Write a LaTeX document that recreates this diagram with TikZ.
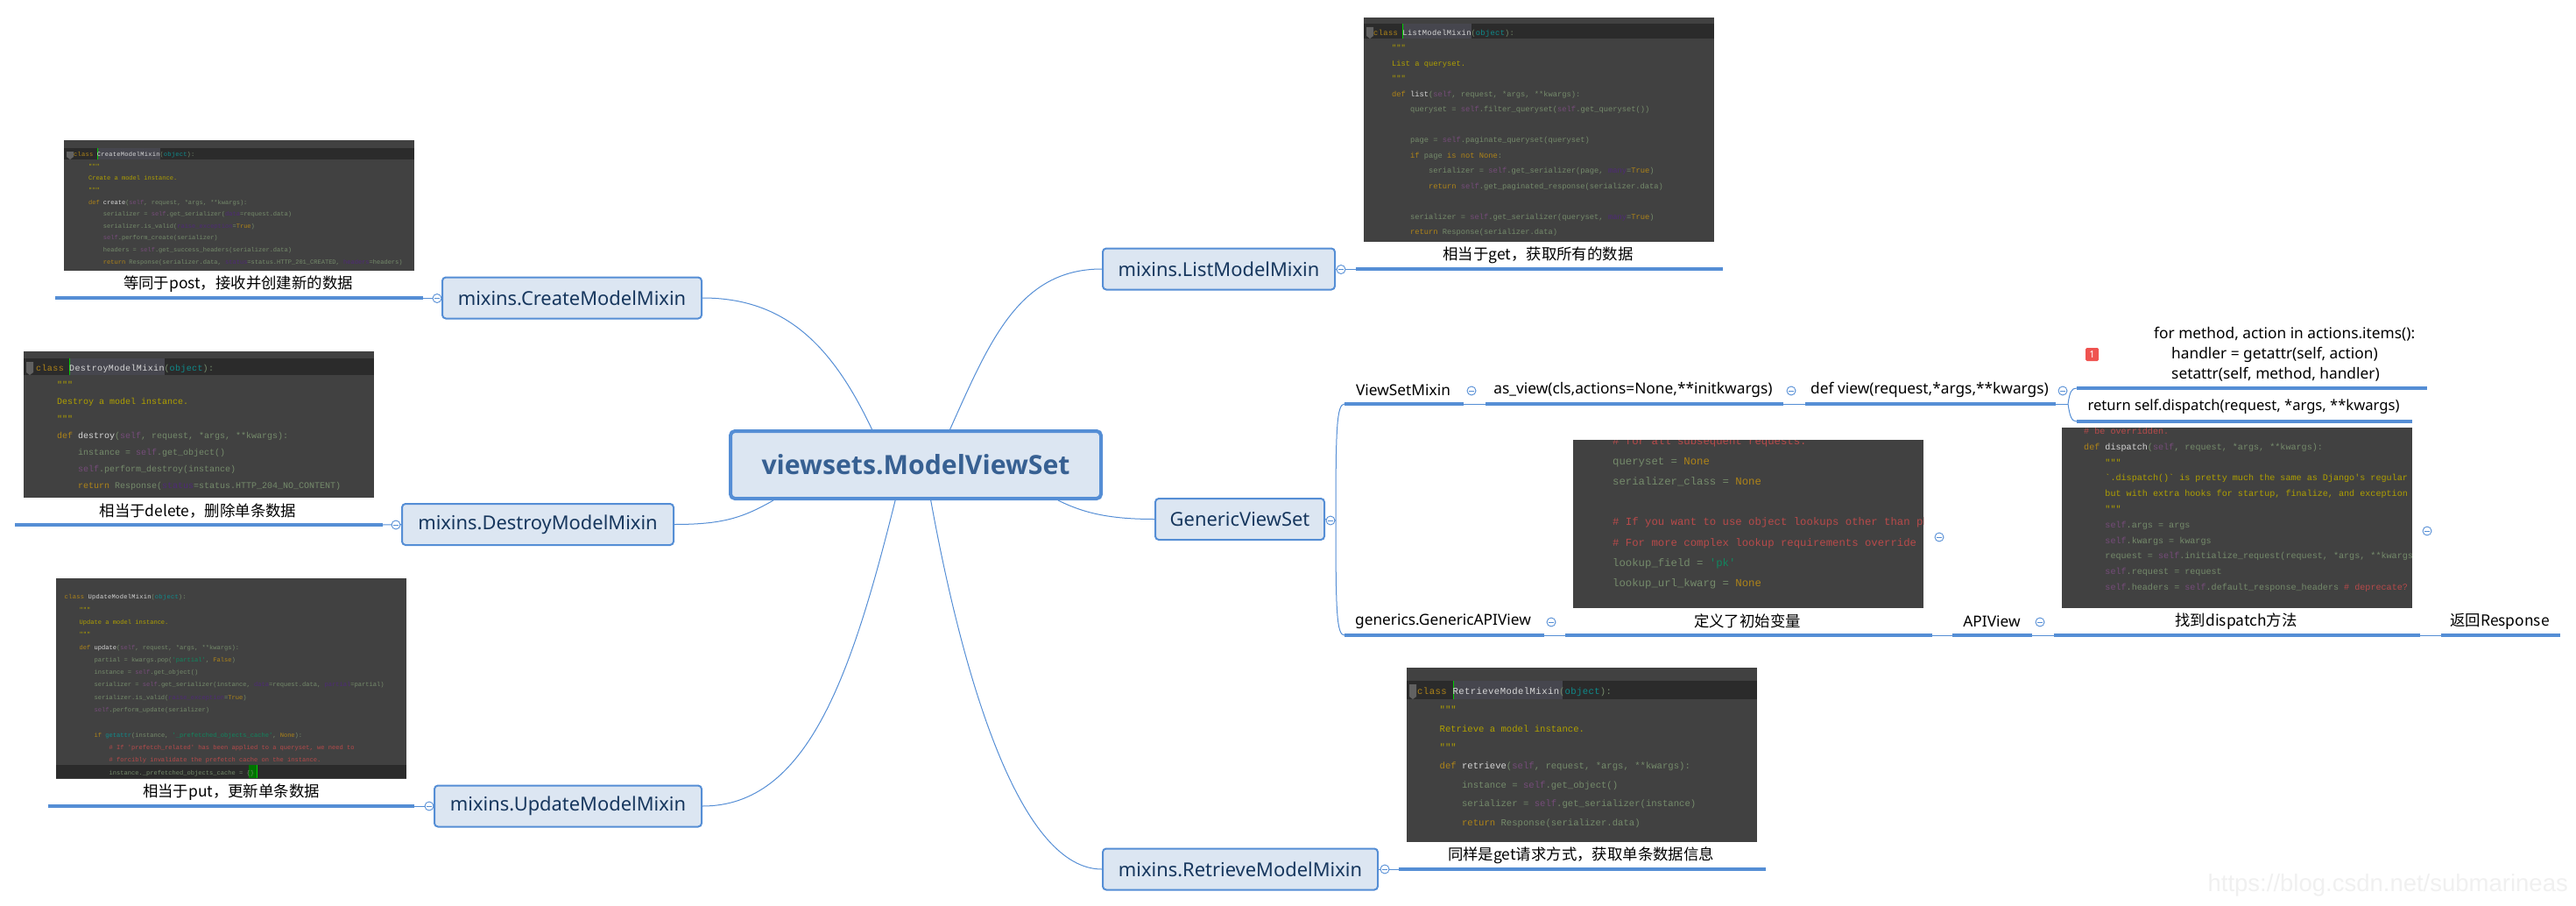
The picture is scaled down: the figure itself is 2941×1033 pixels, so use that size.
\documentclass[tikz,border=0pt]{standalone}
\usepackage{fontspec}
\setmainfont{Noto Sans}
\newfontfamily\cjk{Noto Sans CJK SC}
\newfontfamily\codefont{Liberation Mono}
\newfontfamily\rootfont{Open Sans}
\newfontfamily\markfont{Liberation Sans}
\usetikzlibrary{calc}
\definecolor{topicblue}{HTML}{558ED5}
\definecolor{topicfill}{HTML}{DCE6F2}
\definecolor{topicink}{HTML}{17375E}
\definecolor{rootink}{HTML}{376092}
\definecolor{shotbg}{HTML}{414141}
\definecolor{shotbar}{HTML}{2B2B2B}
\definecolor{shotsel}{HTML}{46464E}
\definecolor{codeplain}{HTML}{758B6B}
\definecolor{badgered}{HTML}{EF5350}
\newcommand{\ckw}[1]{\textcolor[HTML]{AF8418}{#1}}
\newcommand{\cdoc}[1]{\textcolor[HTML]{B0A000}{#1}}
\newcommand{\cself}[1]{\textcolor[HTML]{764C7A}{#1}}
\newcommand{\cparam}[1]{\textcolor[HTML]{4F2A78}{#1}}
\newcommand{\ccom}[1]{\textcolor[HTML]{B84A4A}{#1}}
\newcommand{\cstr}[1]{\textcolor[HTML]{10875F}{#1}}
\newcommand{\cbuilt}[1]{\textcolor[HTML]{0E8C8C}{#1}}
\newcommand{\cfn}[1]{\textcolor[HTML]{D8D8D8}{#1}}
\newcommand{\indA}{\hspace*{2.4em}}
\newcommand{\indB}{\hspace*{4.8em}}
\newcommand{\indC}{\hspace*{7.2em}}
\newcommand{\classline}[1]{{\addfontfeature{LetterSpace=4}\ckw{class} \cfn{#1}(\cbuilt{object}):}}
\def\codeshot(#1:#2)(#3:#4){\fill[shotbg] (#1,#2) rectangle (#3,#4);}
\def\shotbar(#1:#2)(#3:#4)(#5:#6){
	\fill[shotbar] (#1,#3) rectangle (#2,#4);
	\fill[shotsel] (#5,#3) rectangle (#6,#4);
	\fill[green!80!black] (#5,#3) rectangle ($(#5,#4)+(1.2,0)$);
	\fill[black!62] ($(#1,#3)+(3,4)$) -- ($(#1,#3)+(11,4)$) -- ($(#1,#4)+(11,-3)$) -- ($(#1,#4)+(7,0)$) -- ($(#1,#4)+(3,-3)$) -- cycle;
}
\tikzset{
	rootbox/.style={draw=topicblue, fill=topicfill, line width=4pt, rounded corners=5pt, text=rootink, font=\rootfont\bfseries\fontsize{30.2}{36}\selectfont, minimum width=423pt, minimum height=77pt, inner sep=0pt},
	topicbox/.style={draw=topicblue, fill=topicfill, line width=2pt, rounded corners=4pt, text=topicink, font=\fontsize{21.9}{26}\selectfont, minimum height=47pt, inner sep=0pt},
	plaintext/.style={font=\fontsize{17.3}{23}\selectfont, inner sep=0pt, align=center},
	captiontext/.style={font=\cjk\fontsize{17.4}{23}\selectfont, inner sep=0pt},
	codetext/.style={anchor=north west, inner sep=0pt, align=left, text=codeplain},
	rulelink/.style={draw=topicblue, line width=4pt},
	thinlink/.style={draw=topicblue, line width=1pt},
	collapser/.style={circle, draw=topicblue, fill=white, line width=0.9pt, minimum size=10pt, inner sep=0pt, path picture={\draw[topicblue, line width=0.9pt] ($(path picture bounding box.center)+(-3,0)$) -- ($(path picture bounding box.center)+(3,0)$);}}
}

\begin{document}
\begin{tikzpicture}[x=1pt, y=-1pt]
	%%%%% START %%%%%
	\useasboundingbox (0, 0) rectangle (2941, 1033);

	\node[rootbox] (root) at (1045.5, 530.5) {viewsets.ModelViewSet};

	\node[topicbox, minimum width=296pt] (create) at (653, 340) {mixins.CreateModelMixin};
	\node[topicbox, minimum width=310pt] (destroy) at (614, 598.5) {mixins.DestroyModelMixin};
	\node[topicbox, minimum width=305pt] (update) at (648.5, 920) {mixins.UpdateModelMixin};
	\node[topicbox, minimum width=265pt] (list) at (1391.5, 307) {mixins.ListModelMixin};
	\node[topicbox, minimum width=193pt] (generic) at (1415.5, 592.5) {GenericViewSet};
	\node[topicbox, minimum width=314pt] (retrieve) at (1416, 992) {mixins.RetrieveModelMixin};

	% links from the centre
	\draw[thinlink] (create.east) .. controls +(95, 0) and +(-45, -95) .. (root.141);
	\draw[thinlink] (list.west) .. controls +(-95, 0) and +(45, -100) .. (root.46.5);
	\draw[thinlink] (destroy.east) .. controls +(55, 0) and +(-35, 20) .. (root.194.7);
	\draw[thinlink] (update.east) .. controls +(120, 0) and +(-50, 200) .. (root.240.7);
	\draw[thinlink] (retrieve.west) .. controls +(-90, 0) and +(40, 220) .. (root.293.7);
	\draw[thinlink] (generic.west) .. controls +(-50, 0) and +(30, 15) .. (root.346.5);

	% create
	\codeshot(73:160)(473:309)
	\shotbar(73:473)(169:182)(111:183)
	\node[codetext, font=\codefont\fontsize{7.03}{13.6}\selectfont] (createcode) at (84, 173.5) {\classline{CreateModelMixin}\\
	\indA\cdoc{"""}\\
	\indA\cdoc{Create a model instance.}\\
	\indA\cdoc{"""}\\
	\indA\ckw{def} \cfn{create}(\cself{self}, request, *args, **kwargs):\\
	\indB serializer = \cself{self}.get\_serializer(\cparam{data}=request.data)\\
	\indB serializer.is\_valid(\cparam{raise\_exception}=\ckw{True})\\
	\indB\cself{self}.perform\_create(serializer)\\
	\indB headers = \cself{self}.get\_success\_headers(serializer.data)\\
	\indB\ckw{return} Response(serializer.data, \cparam{status}=status.HTTP\_201\_CREATED, \cparam{headers}=headers)};
	\node[captiontext] (createnote) at (272, 324) {等同于post，接收并创建新的数据};
	\coordinate (createL) at (63, 340);
	\coordinate (createR) at (483, 340);
	\draw[rulelink] (createL) -- (createR);
	\draw[thinlink] (createR) -- (create.west);
	\node[collapser] (createdot) at (499, 340.5) {};

	% destroy
	\codeshot(27:401)(427:568)
	\shotbar(27:427)(409:428)(79:188)
	\node[codetext, font=\codefont\fontsize{10}{19.2}\selectfont] (destroycode) at (41, 416) {\classline{DestroyModelMixin}\\
	\indA\cdoc{"""}\\
	\indA\cdoc{Destroy a model instance.}\\
	\indA\cdoc{"""}\\
	\indA\ckw{def} \cfn{destroy}(\cself{self}, request, *args, **kwargs):\\
	\indB instance = \cself{self}.get\_object()\\
	\indB\cself{self}.perform\_destroy(instance)\\
	\indB\ckw{return} Response(\cparam{status}=status.HTTP\_204\_NO\_CONTENT)};
	\node[captiontext] (destroynote) at (226, 583) {相当于delete，删除单条数据};
	\coordinate (destroyL) at (17, 599);
	\coordinate (destroyR) at (437, 599);
	\draw[rulelink] (destroyL) -- (destroyR);
	\draw[thinlink] (destroyR) -- (destroy.west);
	\node[collapser] (destroydot) at (452, 599) {};

	% update
	\codeshot(64:660)(464:889)
	\fill[shotbar] (64, 873) rectangle (464, 888);
	\fill[green!45!black] (284, 873) rectangle (293, 888);
	\fill[green!80!black] (293, 873) rectangle (294.2, 888);
	\node[codetext, font=\codefont\fontsize{7.07}{14.3}\selectfont] (updatecode) at (73.5, 678.5) {\classline{UpdateModelMixin}\\
	\indA\cdoc{"""}\\
	\indA\cdoc{Update a model instance.}\\
	\indA\cdoc{"""}\\
	\indA\ckw{def} \cfn{update}(\cself{self}, request, *args, **kwargs):\\
	\indB partial = kwargs.pop(\cstr{'partial'}, \ckw{False})\\
	\indB instance = \cself{self}.get\_object()\\
	\indB serializer = \cself{self}.get\_serializer(instance, \cparam{data}=request.data, \cparam{partial}=partial)\\
	\indB serializer.is\_valid(\cparam{raise\_exception}=\ckw{True})\\
	\indB\cself{self}.perform\_update(serializer)\\
	\mbox{}\\
	\indB\ckw{if} \cbuilt{getattr}(instance, \cstr{'\_prefetched\_objects\_cache'}, \ckw{None}):\\
	\indC\ccom{\# If 'prefetch\_related' has been applied to a queryset, we need to}\\
	\indC\ccom{\# forcibly invalidate the prefetch cache on the instance.}\\
	\indC instance.\_prefetched\_objects\_cache = \{\}};
	\node[captiontext] (updatenote) at (264, 904) {相当于put，更新单条数据};
	\coordinate (updateL) at (55, 920);
	\coordinate (updateR) at (473, 920);
	\draw[rulelink] (updateL) -- (updateR);
	\draw[thinlink] (updateR) -- (update.west);
	\node[collapser] (updatedot) at (490, 920) {};

	% list
	\codeshot(1557:20)(1957:276)
	\shotbar(1557:1957)(27:44)(1601:1680)
	\node[codetext, font=\codefont\fontsize{8.75}{17.5}\selectfont] (listcode) at (1568, 33.5) {\classline{ListModelMixin}\\
	\indA\cdoc{"""}\\
	\indA\cdoc{List a queryset.}\\
	\indA\cdoc{"""}\\
	\indA\ckw{def} \cfn{list}(\cself{self}, request, *args, **kwargs):\\
	\indB queryset = \cself{self}.filter\_queryset(\cself{self}.get\_queryset())\\
	\mbox{}\\
	\indB page = \cself{self}.paginate\_queryset(queryset)\\
	\indB\ckw{if} page \ckw{is not None}:\\
	\indC serializer = \cself{self}.get\_serializer(page, \cparam{many}=\ckw{True})\\
	\indC\ckw{return} \cself{self}.get\_paginated\_response(serializer.data)\\
	\mbox{}\\
	\indB serializer = \cself{self}.get\_serializer(queryset, \cparam{many}=\ckw{True})\\
	\indB\ckw{return} Response(serializer.data)};
	\node[captiontext] (listnote) at (1756, 291) {相当于get，获取所有的数据};
	\coordinate (listL) at (1548, 307);
	\coordinate (listR) at (1967, 307);
	\draw[rulelink] (listL) -- (listR);
	\draw[thinlink] (list.east) -- (listL);
	\node[collapser] (listdot) at (1531, 307.5) {};

	% retrieve
	\codeshot(1606:762)(2006:961)
	\shotbar(1606:2006)(777:798)(1659:1784)
	\node[codetext, font=\codefont\fontsize{10.6}{21.4}\selectfont] (retrievecode) at (1618, 784.5) {\classline{RetrieveModelMixin}\\
	\indA\cdoc{"""}\\
	\indA\cdoc{Retrieve a model instance.}\\
	\indA\cdoc{"""}\\
	\indA\ckw{def} \cfn{retrieve}(\cself{self}, request, *args, **kwargs):\\
	\indB instance = \cself{self}.get\_object()\\
	\indB serializer = \cself{self}.get\_serializer(instance)\\
	\indB\ckw{return} Response(serializer.data)};
	\node[captiontext] (retrievenote) at (1805, 976) {同样是get请求方式，获取单条数据信息};
	\coordinate (retrieveL) at (1597, 992);
	\coordinate (retrieveR) at (2016, 992);
	\draw[rulelink] (retrieveL) -- (retrieveR);
	\draw[thinlink] (retrieve.east) -- (retrieveL);
	\node[collapser] (retrievedot) at (1581, 992) {};

	% generic view set, upper row
	\coordinate (forkA) at (1525, 594);
	\coordinate (mixinL) at (1535, 461);
	\coordinate (mixinR) at (1671, 461);
	\coordinate (asviewL) at (1696, 461);
	\coordinate (asviewR) at (2036, 461);
	\coordinate (viewL) at (2061, 461);
	\coordinate (viewR) at (2347, 461);
	\coordinate (forkB) at (2361, 461);
	\coordinate (loopL) at (2371, 443);
	\coordinate (loopR) at (2771, 443);
	\coordinate (backL) at (2371, 481);
	\coordinate (backR) at (2754, 481);
	\draw[thinlink] (generic.east) -- (forkA);
	\draw[thinlink] (mixinR) -- (asviewL);
	\draw[thinlink] (asviewR) -- (viewL);
	\draw[thinlink] (viewR) -- (forkB);
	\draw[thinlink] (forkB) .. controls +(2, -14) and +(-6, 0) .. (loopL);
	\draw[thinlink] (forkB) .. controls +(2, 14) and +(-6, 0) .. (backL);
	\draw[rulelink] (mixinL) -- (mixinR);
	\draw[rulelink] (asviewL) -- (asviewR);
	\draw[rulelink] (viewL) -- (viewR);
	\draw[rulelink] (loopL) -- (loopR);
	\draw[rulelink] (backL) -- (backR);
	\node[plaintext] (mixintext) at (1602, 445) {ViewSetMixin};
	\node[plaintext] (asviewtext) at (1864.5, 445) {as\_view(cls,actions=None,**initkwargs)};
	\node[plaintext] (viewtext) at (2203, 445) {def view(request,*args,**kwargs)};
	\node[plaintext, align=left, anchor=west] (looptext) at (2459, 404) {for method, action in actions.items():\\
	\hspace*{20pt}handler = getattr(self, action)\\
	\hspace*{20pt}setattr(self, method, handler)};
	\node[plaintext, font=\fontsize{16.6}{23}\selectfont] (backtext) at (2561.5, 464) {return self.dispatch(request, *args, **kwargs)};
	\node[fill=badgered, rounded corners=1.5pt, text=white, font=\fontsize{11}{12}\selectfont, minimum width=15pt, minimum height=15pt, inner sep=0pt] (badge) at (2388.5, 404.5) {1};
	\node[collapser] (mixindot) at (1680, 446) {};
	\node[collapser] (asviewdot) at (2045, 446) {};
	\node[collapser] (viewdot) at (2355, 446) {};

	% generic view set, lower row
	\coordinate (apiAL) at (1535, 725);
	\coordinate (apiAR) at (1763, 725);
	\coordinate (varL) at (1787, 725);
	\coordinate (varR) at (2206, 725);
	\coordinate (apiBL) at (2229, 725);
	\coordinate (apiBR) at (2320, 725);
	\coordinate (findL) at (2345, 725);
	\coordinate (findR) at (2763, 725);
	\coordinate (respL) at (2787, 725);
	\coordinate (respR) at (2923, 725);
	\draw[thinlink] (forkA) .. controls (1525, 490) and (1526, 461) .. (mixinL);
	\draw[thinlink] (forkA) .. controls (1525, 698) and (1526, 725) .. (apiAL);
	\draw[thinlink] (apiAR) -- (varL);
	\draw[thinlink] (varR) -- (apiBL);
	\draw[thinlink] (apiBR) -- (findL);
	\draw[thinlink] (findR) -- (respL);
	\draw[rulelink] (apiAL) -- (apiAR);
	\draw[rulelink] (varL) -- (varR);
	\draw[rulelink] (apiBL) -- (apiBR);
	\draw[rulelink] (findL) -- (findR);
	\draw[rulelink] (respL) -- (respR);

	\codeshot(1796:502)(2196:694)
	\begin{scope}
		\clip (1796, 502) rectangle (2196, 694);
		\node[codetext, font=\codefont\fontsize{12.3}{23.2}\selectfont] (varcode) at (1841, 498) {\ccom{\# for all subsequent requests.}\\
		queryset = \ckw{None}\\
		serializer\_class = \ckw{None}\\
		\mbox{}\\
		\ccom{\# If you want to use object lookups other than pk}\\
		\ccom{\# For more complex lookup requirements override}\\
		lookup\_field = \cstr{'pk'}\\
		lookup\_url\_kwarg = \ckw{None}};
	\end{scope}
	\codeshot(2354:488)(2754:694)
	\begin{scope}
		\clip (2354, 488) rectangle (2754, 694);
		\node[codetext, font=\codefont\fontsize{10.1}{17.8}\selectfont] (findcode) at (2379, 488) {\ccom{\# be overridden.}\\
		\ckw{def} \cfn{dispatch}(\cself{self}, request, *args, **kwargs):\\
		\indA\cdoc{"""}\\
		\indA\cdoc{`.dispatch()` is pretty much the same as Django's regular}\\
		\indA\cdoc{but with extra hooks for startup, finalize, and exception}\\
		\indA\cdoc{"""}\\
		\indA\cself{self}.args = args\\
		\indA\cself{self}.kwargs = kwargs\\
		\indA request = \cself{self}.initialize\_request(request, *args, **kwargs)\\
		\indA\cself{self}.request = request\\
		\indA\cself{self}.headers = \cself{self}.default\_response\_headers  \ccom{\# deprecate?}};
	\end{scope}

	\node[plaintext] (apiAtext) at (1647.5, 709) {generics.GenericAPIView};
	\node[captiontext] (vartext) at (1995, 709) {定义了初始变量};
	\node[plaintext] (apiBtext) at (2274, 709) {APIView};
	\node[captiontext] (findtext) at (2553, 709) {找到dispatch方法};
	\node[captiontext] (resptext) at (2854, 709) {返回Response};
	\node[collapser] (apiAdot) at (1771, 710) {};
	\node[collapser] (vardot) at (2214, 613) {};
	\node[collapser] (apiBdot) at (2329, 710) {};
	\node[collapser] (finddot) at (2771, 606) {};
	\node[collapser] (genericdot) at (1519, 594) {};

	\node[text=black!6, font=\markfont\fontsize{27.5}{32}\selectfont, inner sep=0pt, anchor=east] (mark) at (2932, 1010) {https://blog.csdn.net/submarineas};
	%%%%% END %%%%%
\end{tikzpicture}
\end{document}
